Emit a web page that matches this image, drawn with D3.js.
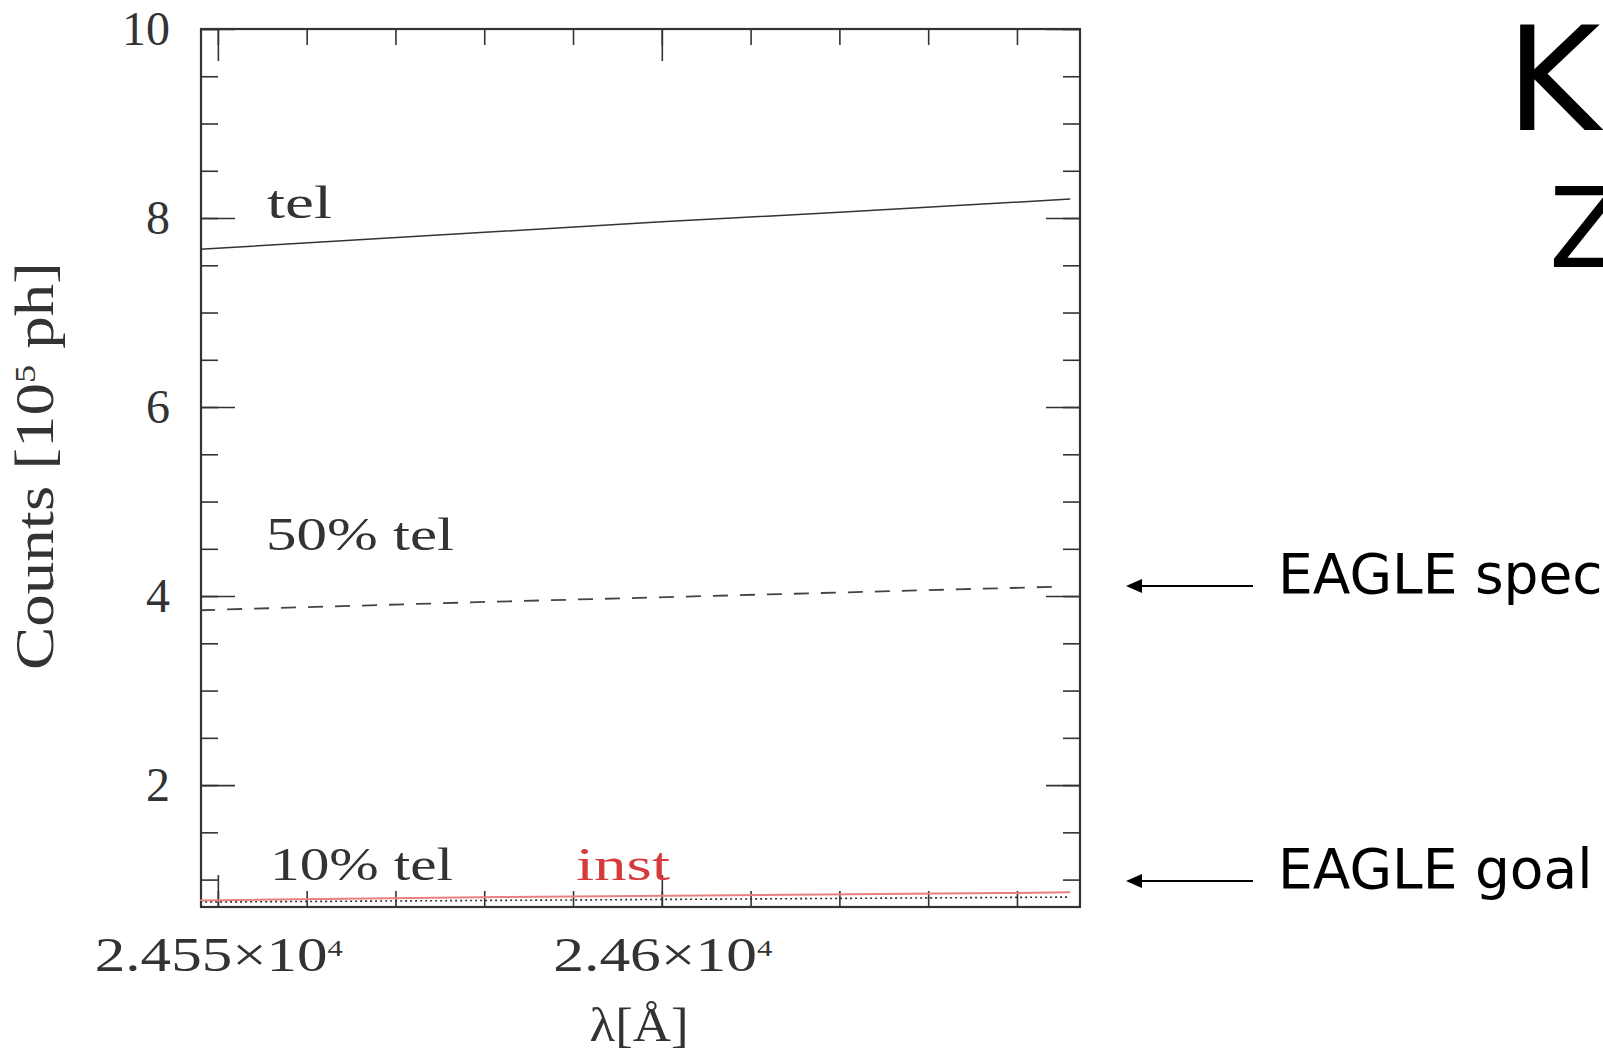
<!DOCTYPE html>
<html>
<head>
<meta charset="utf-8">
<script src="https://cdn.jsdelivr.net/npm/d3@7/dist/d3.min.js"></script>
<style>
    body { margin: 0; background: #fff; }
    svg { display: block; }
    .serif { font-family: 'Liberation Serif', serif; fill: #333; }
    .sans { font-family: 'DejaVu Sans', sans-serif; fill: #000; }
</style>
</head>
<body>
<div id="chart"></div>
<script>
// data (counts in units of 1e5 photons)
const telLambda = [24548, 24600, 24620, 24646];
const telCounts = [7.67, 7.96, 8.06, 8.20];
const halfTelLambda = [24548, 24581, 24645];
const halfTelCounts = [3.85, 3.94, 4.10];
const tenthTelLambda = [24548, 24600, 24646];
const tenthTelCounts = [0.762, 0.79, 0.815];
const instLambda = [24548, 24582, 24638, 24646];
const instCounts = [0.78, 0.815, 0.857, 0.865];

const xMajorTicks = [24550, 24600];
const xMinorTicks = [24550, 24560, 24570, 24580, 24590, 24600, 24610, 24620, 24630, 24640];
const yMajorTicks = [2, 4, 6, 8, 10];
const yMinorTicks = [1, 1.5, 2, 2.5, 3, 3.5, 4, 4.5, 5, 5.5, 6, 6.5, 7, 7.5, 8, 8.5, 9, 9.5, 10];
const xTickLabels = [['2.455', '4'], ['2.46', '4']];

const seriesLabels = ['tel', '50% tel', '10% tel', 'inst'];
const arrowNotes = ['EAGLE spec', 'EAGLE goal'];
const arrowValues = [4.106, 0.984];
const sideLetters = ['K', 'Z'];

const W = 1603, H = 1056;
const plot = { left: 201, right: 1080, top: 29, bottom: 907 };

const svg = d3.select('#chart')
    .append('svg')
    .attr('width', W)
    .attr('height', H);

const x = d3.scaleLinear()
    .domain([24548.1, 24647.1])
    .range([plot.left, plot.right]);
const y = d3.scaleLinear()
    .domain([0.71, 10])
    .range([plot.bottom, plot.top]);

// ticks, all pointing inward
function ticks(axis, values, size, tx, ty) {
    svg.append('g')
        .attr('transform', 'translate(' + tx + ',' + ty + ')')
        .call(axis.tickValues(values).tickSize(-size).tickFormat(''))
        .call(g => g.select('.domain').remove())
        .call(g => g.selectAll('line').attr('stroke', '#333').attr('stroke-width', 1.6));
}
ticks(d3.axisBottom(x), xMinorTicks, 16, 0, plot.bottom);
ticks(d3.axisBottom(x), xMajorTicks, 32, 0, plot.bottom);
ticks(d3.axisTop(x), xMinorTicks, 16, 0, plot.top);
ticks(d3.axisTop(x), xMajorTicks, 32, 0, plot.top);
ticks(d3.axisLeft(y), yMinorTicks, 17, plot.left, 0);
ticks(d3.axisLeft(y), yMajorTicks, 34, plot.left, 0);
ticks(d3.axisRight(y), yMinorTicks, 17, plot.right, 0);
ticks(d3.axisRight(y), yMajorTicks, 34, plot.right, 0);

// frame
svg.append('rect')
    .attr('x', plot.left)
    .attr('y', plot.top)
    .attr('width', plot.right - plot.left)
    .attr('height', plot.bottom - plot.top)
    .attr('fill', 'none')
    .attr('stroke', '#333')
    .attr('stroke-width', 2.2);

// curves
const line = d3.line().x(d => x(d[0])).y(d => y(d[1]));
function curve(lams, vals, color, width, dash) {
    svg.append('path')
        .datum(d3.zip(lams, vals))
        .attr('d', line)
        .attr('fill', 'none')
        .attr('stroke', color)
        .attr('stroke-width', width)
        .attr('stroke-dasharray', dash);
}
curve(instLambda, instCounts, '#e88080', 2, null);
curve(telLambda, telCounts, '#333', 1.5, null);
curve(halfTelLambda, halfTelCounts, '#444', 1.8, '15,12');
curve(tenthTelLambda, tenthTelCounts, '#333', 1.6, '2,3');

// y tick labels
svg.append('g')
    .selectAll('text')
    .data(yMajorTicks)
    .enter()
    .append('text')
    .attr('class', 'serif')
    .attr('x', 170)
    .attr('y', d => y(d) + 16)
    .attr('text-anchor', 'end')
    .attr('font-size', 48)
    .text(d => d);

// x tick labels (mantissa x 10^exp)
const labelLen = [248, 219];
const xl = svg.append('g')
    .selectAll('text')
    .data(xTickLabels)
    .enter()
    .append('text')
    .attr('class', 'serif')
    .attr('x', (d, i) => x(xMajorTicks[i]) + 1)
    .attr('y', 971)
    .attr('text-anchor', 'middle')
    .attr('font-size', 48)
    .attr('textLength', (d, i) => labelLen[i])
    .attr('lengthAdjust', 'spacingAndGlyphs');
xl.append('tspan').text(d => d[0] + '\u00d710');
xl.append('tspan').attr('font-size', 24).attr('dy', -15).text(d => d[1]);

// axis titles
svg.append('text')
    .attr('class', 'serif')
    .attr('x', 639)
    .attr('y', 1041)
    .attr('text-anchor', 'middle')
    .attr('font-size', 48)
    .attr('textLength', 99)
    .attr('lengthAdjust', 'spacingAndGlyphs')
    .text('\u03bb[\u00c5]');

const yt = svg.append('text')
    .attr('class', 'serif')
    .attr('transform', 'translate(53,466) rotate(-90)')
    .attr('text-anchor', 'middle')
    .attr('font-size', 54)
    .attr('textLength', 408)
    .attr('lengthAdjust', 'spacingAndGlyphs');
yt.append('tspan').text('Counts [10');
yt.append('tspan').attr('font-size', 30).attr('dy', -18).text('5');
yt.append('tspan').attr('dy', 18).text(' ph]');

// labels inside the plot
const labelPos = [[267, 218, 65], [266, 550, 188], [270, 880, 183], [576, 880, 94]];
svg.append('g')
    .selectAll('text')
    .data(seriesLabels)
    .enter()
    .append('text')
    .attr('class', 'serif')
    .attr('x', (d, i) => labelPos[i][0])
    .attr('y', (d, i) => labelPos[i][1])
    .attr('font-size', 46)
    .attr('textLength', (d, i) => labelPos[i][2])
    .attr('lengthAdjust', 'spacingAndGlyphs')
    .style('fill', d => d === 'inst' ? '#d63a3a' : '#333')
    .text(d => d);

// slide annotations on the right
arrowNotes.forEach((note, i) => {
    const yy = y(arrowValues[i]);
    svg.append('line')
        .attr('x1', 1130)
        .attr('x2', 1253)
        .attr('y1', yy)
        .attr('y2', yy)
        .attr('stroke', '#000')
        .attr('stroke-width', 2);
    svg.append('path')
        .attr('d', 'M1126,' + yy + ' l16,-7 l0,14 Z')
        .attr('fill', '#000');
    svg.append('text')
        .attr('class', 'sans')
        .attr('x', 1278)
        .attr('y', yy + 7)
        .attr('font-size', 55)
        .text(note);
});

svg.append('text')
    .attr('class', 'sans')
    .attr('x', 1506)
    .attr('y', 130)
    .attr('font-size', 144)
    .text(sideLetters[0]);
svg.append('text')
    .attr('class', 'sans')
    .attr('x', 1549)
    .attr('y', 267)
    .attr('font-size', 110)
    .text(sideLetters[1]);
</script>
</body>
</html>
